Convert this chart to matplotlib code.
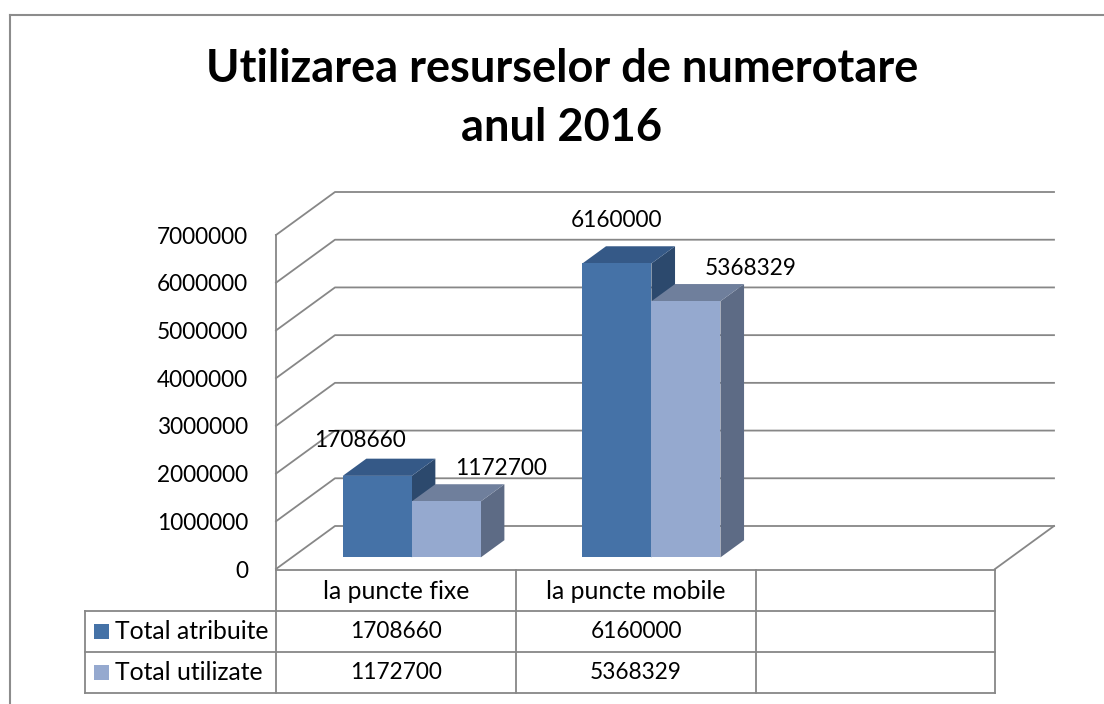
import matplotlib
matplotlib.use('Agg')
from matplotlib import pyplot as plt
from matplotlib.patches import Polygon, Rectangle

plt.rcParams['font.family'] = ['Lato', 'DejaVu Sans']

# data
categories = ['la puncte fixe', 'la puncte mobile']
series_names = ['Total atribuite', 'Total utilizate']
total_atribuite = [1708660, 6160000]
total_utilizate = [1172700, 5368329]
y_ticks = [0, 1000000, 2000000, 3000000, 4000000, 5000000, 6000000, 7000000]
title_lines = ['Utilizarea resurselor de numerotare', 'anul 2016']

# colours: front, top, side
front_c = ['#4572a7', '#95a9cf']
top_c = ['#355987', '#6f7f9c']
side_c = ['#2c496d', '#5d6b85']
grid_c = '#878787'

W, H = 1104, 704
L, R, Y0, YT = 276, 995, 569, 235
n_cols = 3  # two categories + one empty column in the data table
num_fs = 16.3
txt_fs = 17.8

fig = plt.figure(figsize=(W / 100, H / 100), dpi=100)
bg = fig.add_axes([0, 0, 1, 1])
bg.set_xlim(0, W)
bg.set_ylim(H, 0)
bg.axis('off')

ax = fig.add_axes([L / W, (H - Y0) / H, (R - L) / W, (Y0 - YT) / H])
ax.set_xlim(0, n_cols)
ax.set_ylim(0, y_ticks[-1])
ax.patch.set_visible(False)
for s in ax.spines.values():
    s.set_visible(False)
ax.set_xticks([])
ax.set_yticks(y_ticks)
ax.set_yticklabels([str(v) for v in y_ticks], fontsize=num_fs)
ax.tick_params(axis='y', length=0, pad=20)

# depth of the 3d box in data units
DX = 59 / (R - L) * n_cols
DY = 43 / (Y0 - YT) * y_ticks[-1]

# walls / gridlines
for v in y_ticks:
    ax.plot([0, DX, n_cols + DX], [v, v + DY, v + DY], color=grid_c,
            lw=1.3, clip_on=False, zorder=1)
ax.plot([n_cols, n_cols + DX], [0, DY], color=grid_c, lw=1.3,
        clip_on=False, zorder=1)

# bars
BW = 0.288
F0 = 0.27
D = 0.4
label_nudge = [[(-17, 35), (55, 33)], [(0, 43), (65, 33)]]
series = [total_atribuite, total_utilizate]
for i in range(len(categories)):
    for j, vals in enumerate(series):
        v = vals[i]
        xl = i + 0.5 - BW + j * BW + F0 * DX
        xr = xl + BW
        yb = F0 * DY
        yt = v + F0 * DY
        side = Polygon([(xr, yb), (xr, yt), (xr + D * DX, yt + D * DY),
                        (xr + D * DX, yb + D * DY)], closed=True,
                       facecolor=side_c[j], edgecolor='none', zorder=3)
        top = Polygon([(xl, yt), (xr, yt), (xr + D * DX, yt + D * DY),
                       (xl + D * DX, yt + D * DY)], closed=True,
                      facecolor=top_c[j], edgecolor='none', zorder=3)
        front = Rectangle((xl, yb), BW, v, facecolor=front_c[j],
                          edgecolor='none', zorder=3)
        for p in (side, top, front):
            p.set_clip_on(False)
            ax.add_patch(p)
        ax.annotate(str(v), ((xl + xr) / 2, yt), xytext=label_nudge[i][j],
                    textcoords='offset pixels', ha='center', va='center',
                    fontsize=num_fs, annotation_clip=False, zorder=4)

# title
bg.text(562, 82, title_lines[0], ha='center', va='baseline', fontsize=32.5,
        fontweight='bold')
bg.text(562, 141, title_lines[1], ha='center', va='baseline', fontsize=32.5,
        fontweight='bold')

# data table
col_x = [276, 516, 756, 995]
row_y = [570, 611, 652, 693]
leg_x = 85
bg.plot([L, L], [YT, row_y[-1]], color=grid_c, lw=1.3)
bg.plot([col_x[0], col_x[-1]], [row_y[0], row_y[0]], color=grid_c, lw=1.3)
for y in row_y[1:]:
    bg.plot([leg_x, col_x[-1]], [y, y], color=grid_c, lw=1.3)
bg.plot([leg_x, leg_x], [row_y[1], row_y[-1]], color=grid_c, lw=1.3)
for x in col_x[1:]:
    bg.plot([x, x], [row_y[0], row_y[-1]], color=grid_c, lw=1.3)

for k, cat in enumerate(categories):
    cx = (col_x[k] + col_x[k + 1]) / 2
    bg.text(cx, (row_y[0] + row_y[1]) / 2 + 1, cat, ha='center',
            va='center', fontsize=txt_fs)
    for j, vals in enumerate(series):
        cy = (row_y[j + 1] + row_y[j + 2]) / 2
        bg.text(cx, cy, str(vals[k]), ha='center', va='center',
                fontsize=num_fs)

for j, name in enumerate(series_names):
    cy = (row_y[j + 1] + row_y[j + 2]) / 2
    bg.add_patch(Rectangle((94, cy - 7.5), 15, 15, facecolor=front_c[j],
                           edgecolor='none'))
    bg.text(115, cy, name, ha='left', va='center', fontsize=txt_fs)

# outer border (cut off at right and bottom)
bg.plot([9.5, W], [14.5, 14.5], color='#8c8c8c', lw=1.5)
bg.plot([9.5, 9.5], [14.5, H], color='#8c8c8c', lw=1.5)

plt.savefig('out.png', dpi=100)
plt.close()
